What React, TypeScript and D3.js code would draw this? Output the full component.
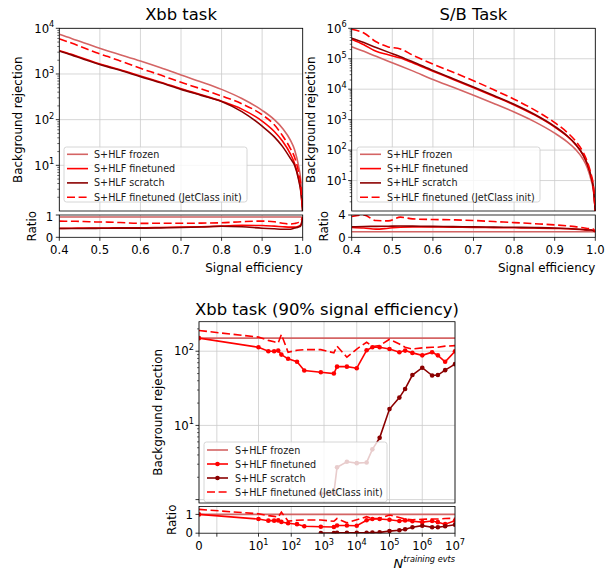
import React from "react";
import * as d3 from "d3";

const FONT = "'DejaVu Sans', Verdana, sans-serif";

const COL_FROZEN = "#d46464";
const COL_FINE = "#ff0000";
const COL_SCRATCH = "#8b0000";
const GRID = "#cbcbcb";

const legendLabels = [
  "S+HLF frozen",
  "S+HLF finetuned",
  "S+HLF scratch",
  "S+HLF finetuned (JetClass init)",
];

// Signal-efficiency working points shared by both ROC panels
const signalEff = [0.4, 0.43, 0.46, 0.49, 0.52, 0.55, 0.6, 0.65, 0.7, 0.75, 0.8, 0.85, 0.9, 0.93, 0.95, 0.97, 0.98, 0.99, 0.995, 1.0];

// Xbb task: background rejection at each signal efficiency
const xbbFrozen = [7400, 6000, 4800, 3900, 3200, 2650, 1930, 1370, 950, 670, 460, 290, 160, 100, 65, 35, 22, 9.5, 5, 1];
const xbbFinetuned = [3240, 2700, 2170, 1770, 1470, 1240, 900, 660, 475, 350, 253, 170, 93, 55, 34, 17.5, 11, 5.2, 3, 1];
const xbbScratch = [3200, 2620, 2100, 1720, 1430, 1200, 870, 640, 460, 340, 250, 150, 72, 42, 26, 14, 10, 4.8, 2.8, 1];
const xbbJetClass = [5900, 4750, 3750, 2950, 2400, 1930, 1330, 945, 655, 470, 330, 223, 128, 77, 45, 23, 15, 7, 4, 1];

// S/B task: background rejection at each signal efficiency
const sbFrozen = [2.5e5, 1.75e5, 1.2e5, 8.3e4, 5.8e4, 4.0e4, 2.1e4, 1.15e4, 6300, 3400, 1780, 860, 360, 190, 110, 50, 27, 10, 5, 1];
const sbFinetuned = [4.4e5, 2.9e5, 1.75e5, 1.35e5, 1.05e5, 7.4e4, 3.9e4, 2.1e4, 1.12e4, 5900, 3050, 1430, 570, 290, 160, 68, 35, 13, 6, 1];
const sbScratch = [4.7e5, 3.4e5, 2.35e5, 1.65e5, 1.17e5, 8.0e4, 4.1e4, 2.2e4, 1.18e4, 6200, 3200, 1500, 600, 300, 165, 70, 36, 13, 6.2, 1];
const sbJetClass = [9.3e5, 7.0e5, 3.6e5, 2.45e5, 2.1e5, 1.32e5, 6.7e4, 3.6e4, 1.9e4, 9600, 4700, 2100, 800, 390, 210, 85, 43, 15.5, 7.5, 1];

// Xbb at 90% signal efficiency vs. number of training events
const nFrozen = [0, 1e7];
const rejFrozen = [150, 150];
const nFinetuned = [0, 10, 20, 30, 40, 50, 80, 150, 250, 800, 2000, 2500, 5000, 1e4, 2e4, 3e4, 5e4, 1e5, 2e5, 3e5, 5e5, 1e6, 2e6, 3e6, 5e6, 1e7];
const rejFinetuned = [150, 113, 100, 100, 102, 90, 79, 72, 55, 52, 50, 62, 62, 59, 103, 113, 113, 107, 97, 102, 95, 88, 97, 88, 72, 100];
const rejJetClass = [190, 155, 140, 134, 129, 168, 97, 103, 105, 105, 95, 117, 83, 107, 132, 116, 119, 145, 125, 113, 107, 111, 113, 113, 117, 119];
const nScratch = [800, 2000, 2500, 5000, 1e4, 2e4, 3e4, 5e4, 1e5, 2e5, 3e5, 5e5, 1e6, 2e6, 3e6, 5e6, 1e7];
const rejScratch = [1.21, 1.22, 2.72, 3.24, 3.1, 3.17, 4.76, 6.8, 16.6, 23.7, 31, 47.7, 60, 47, 47.7, 55.6, 67];

// Tick values
const effTicks = [0.4, 0.5, 0.6, 0.7, 0.8, 0.9, 1.0];
const nTicks = [0, 3, 10, 1e2, 1e3, 1e4, 1e5, 1e6, 1e7];
const nTickLabels: (string | [string, number])[] = ["0", "", ["10", 1], ["10", 2], ["10", 3], ["10", 4], ["10", 5], ["10", 6], ["10", 7]];

interface Curve {
  x: number[];
  y: number[];
  color: string;
  dashed?: boolean;
  markers?: boolean;
}

interface Frame {
  x0: number;
  x1: number;
  y0: number;
  y1: number;
  r0: number;
  r1: number;
}

const TICK_FS = 11.7;
const SUP_FS = 8.2;
const LABEL_FS = 11.9;
const TITLE_FS = 16.4;
const LEGEND_FS = 9.6;
const DASH = "8,3.6";
const LW = 1.6;

function ratioOf(num: number[], den: number[]) {
  return num.map((v, i) => v / den[i]);
}

function logMinor(lo: number, hi: number) {
  const out: number[] = [];
  for (let d = Math.floor(Math.log10(lo)); d <= Math.ceil(Math.log10(hi)); d++) {
    for (let k = 2; k <= 9; k++) {
      const v = k * Math.pow(10, d);
      if (v > lo && v < hi) out.push(v);
    }
  }
  return out;
}

function Pow10({ x, y, e, anchor }: { x: number; y: number; e: number; anchor: "start" | "middle" | "end" }) {
  return (
    <text x={x} y={y} textAnchor={anchor} fontSize={TICK_FS}>
      10
      <tspan dy={-5.2} fontSize={SUP_FS}>
        {e}
      </tspan>
    </text>
  );
}

function Legend({
  x,
  y,
  w,
  h,
  rowY,
  step,
  lx0,
  lx1,
  tx,
  curves,
}: {
  x: number;
  y: number;
  w: number;
  h: number;
  rowY: number;
  step: number;
  lx0: number;
  lx1: number;
  tx: number;
  curves: Curve[];
}) {
  return (
    <g>
      <rect x={x} y={y} width={w} height={h} rx={2.5} fill="#ffffff" fillOpacity={0.8} stroke="#cccccc" strokeWidth={0.8} />
      {curves.map((c, i) => {
        const cy = rowY + i * step;
        return (
          <g key={i}>
            <line x1={lx0} x2={lx1} y1={cy} y2={cy} stroke={c.color} strokeWidth={LW} strokeDasharray={c.dashed ? DASH : undefined} />
            {c.markers && <circle cx={(lx0 + lx1) / 2} cy={cy} r={2.3} fill={c.color} />}
            <text x={tx} y={cy + 3.5} fontSize={LEGEND_FS} fill="#1a1a1a">
              {legendLabels[i]}
            </text>
          </g>
        );
      })}
    </g>
  );
}

function EffPanel({
  id,
  f,
  title,
  yTop,
  rTop,
  curves,
  legendX,
}: {
  id: string;
  f: Frame;
  title: string;
  yTop: number;
  rTop: number;
  curves: Curve[];
  legendX: number;
}) {
  const x = d3.scaleLinear().domain([0.4, 1.0]).range([f.x0, f.x1]);
  const y = d3.scaleLog().domain([1, yTop]).range([f.y1, f.y0]);
  const r = d3.scaleLinear().domain([0, rTop]).range([f.r1, f.r0]);
  const decades = d3.range(1, Math.round(Math.log10(yTop)) + 1);
  const minors = logMinor(1, yTop);
  const den = curves[0].y;

  const mainPath = (c: Curve) =>
    d3
      .line<number>()
      .x((_, i) => x(c.x[i]))
      .y((v) => y(v))
      .curve(d3.curveMonotoneX)(c.y) || "";
  const ratioPath = (c: Curve) =>
    d3
      .line<number>()
      .x((_, i) => x(c.x[i]))
      .y((v) => r(v))
      .curve(d3.curveMonotoneX)(ratioOf(c.y, den)) || "";

  const cx = (f.x0 + f.x1) / 2;
  return (
    <g>
      <defs>
        <clipPath id={`${id}-m`}>
          <rect x={f.x0} y={f.y0} width={f.x1 - f.x0} height={f.y1 - f.y0} />
        </clipPath>
        <clipPath id={`${id}-r`}>
          <rect x={f.x0} y={f.r0} width={f.x1 - f.x0} height={f.r1 - f.r0} />
        </clipPath>
      </defs>
      <text x={cx} y={20} textAnchor="middle" fontSize={TITLE_FS}>
        {title}
      </text>
      {/* grid */}
      <g stroke={GRID} strokeWidth={0.8}>
        {effTicks.map((t) => (
          <line key={`gx${t}`} x1={x(t)} x2={x(t)} y1={f.y0} y2={f.y1} />
        ))}
        {effTicks.map((t) => (
          <line key={`grx${t}`} x1={x(t)} x2={x(t)} y1={f.r0} y2={f.r1} />
        ))}
        {decades.map((d) => (
          <line key={`gy${d}`} x1={f.x0} x2={f.x1} y1={y(Math.pow(10, d))} y2={y(Math.pow(10, d))} />
        ))}
        <line x1={f.x0} x2={f.x1} y1={r(1)} y2={r(1)} />
      </g>
      {/* curves */}
      <g clipPath={`url(#${id}-m)`} fill="none">
        {curves.map((c, i) => (
          <path key={i} d={mainPath(c)} stroke={c.color} strokeWidth={LW} strokeDasharray={c.dashed ? DASH : undefined} />
        ))}
      </g>
      <g clipPath={`url(#${id}-r)`} fill="none">
        {curves.map((c, i) => (
          <path key={i} d={ratioPath(c)} stroke={c.color} strokeWidth={LW} strokeDasharray={c.dashed ? DASH : undefined} />
        ))}
      </g>
      <Legend x={legendX} y={147} w={183} h={55} rowY={154.3} step={14.3} lx0={legendX + 3} lx1={legendX + 24} tx={legendX + 30} curves={curves} />
      {/* spines */}
      <rect x={f.x0} y={f.y0} width={f.x1 - f.x0} height={f.y1 - f.y0} fill="none" stroke="#000" strokeWidth={0.8} />
      <rect x={f.x0} y={f.r0} width={f.x1 - f.x0} height={f.r1 - f.r0} fill="none" stroke="#000" strokeWidth={0.8} />
      {/* ticks */}
      <g stroke="#000">
        {decades.map((d) => (
          <line key={`ty${d}`} x1={f.x0 - 3.5} x2={f.x0} y1={y(Math.pow(10, d))} y2={y(Math.pow(10, d))} strokeWidth={0.8} />
        ))}
        {minors.map((v) => (
          <line key={`tm${v}`} x1={f.x0 - 2} x2={f.x0} y1={y(v)} y2={y(v)} strokeWidth={0.6} />
        ))}
        {effTicks.map((t) => (
          <line key={`tx${t}`} x1={x(t)} x2={x(t)} y1={f.r1} y2={f.r1 + 3.5} strokeWidth={0.8} />
        ))}
        {[0, rTop].map((t) => (
          <line key={`tr${t}`} x1={f.x0 - 3.5} x2={f.x0} y1={r(t)} y2={r(t)} strokeWidth={0.8} />
        ))}
      </g>
      {decades.map((d) => (
        <Pow10 key={`ly${d}`} x={f.x0 - 5} y={y(Math.pow(10, d)) + 4.2} e={d} anchor="end" />
      ))}
      {[0, rTop === 4 ? 4 : 1].map((t) => (
        <text key={`lr${t}`} x={f.x0 - 6} y={r(t) + 4.2} textAnchor="end" fontSize={TICK_FS}>
          {t}
        </text>
      ))}
      {effTicks.map((t) => (
        <text key={`lx${t}`} x={x(t)} y={f.r1 + 16.5} textAnchor="middle" fontSize={TICK_FS}>
          {t.toFixed(1)}
        </text>
      ))}
      <text x={f.x1} y={272} textAnchor="end" fontSize={LABEL_FS}>
        Signal efficiency
      </text>
      <text
        x={f.x0 - 37}
        y={(f.y0 + f.y1) / 2}
        transform={`rotate(-90, ${f.x0 - 37}, ${(f.y0 + f.y1) / 2})`}
        textAnchor="middle"
        fontSize={LABEL_FS}
      >
        Background rejection
      </text>
      <text
        x={f.x0 - 23.3}
        y={(f.r0 + f.r1) / 2}
        transform={`rotate(-90, ${f.x0 - 23.3}, ${(f.r0 + f.r1) / 2})`}
        textAnchor="middle"
        fontSize={LABEL_FS}
      >
        Ratio
      </text>
    </g>
  );
}

function TrainingPanel() {
  const f: Frame = { x0: 199, x1: 455, y0: 321.7, y1: 503, r0: 506.5, r1: 533.2 };
  // linear up to 10 events, logarithmic above
  const nToT = (n: number) => (n <= 10 ? n / 10 : 1 + Math.log10(n / 10));
  const tAxis = d3.scaleLinear().domain([0, 1, 7]).range([f.x0, 258.5, f.x1]);
  const x = (n: number) => tAxis(nToT(n));
  const y = d3.scaleLog().domain([0.9, 250]).range([f.y1, f.y0]);
  const r = d3.scaleLinear().domain([0, 1.42]).range([f.r1, f.r0]);

  const curves: Curve[] = [
    { x: nFrozen, y: rejFrozen, color: COL_FROZEN },
    { x: nFinetuned, y: rejFinetuned, color: COL_FINE, markers: true },
    { x: nScratch, y: rejScratch, color: COL_SCRATCH, markers: true },
    { x: nFinetuned, y: rejJetClass, color: COL_FINE, dashed: true },
  ];
  const frozenRef = rejFrozen[0];
  const path = (c: Curve, ys: (v: number) => number, vals: number[]) =>
    d3
      .line<number>()
      .x((_, i) => x(c.x[i]))
      .y((v) => ys(v))(vals) || "";

  const decades = [0, 1, 2];
  const minors = logMinor(1, 250);

  return (
    <g>
      <defs>
        <clipPath id="nb-m">
          <rect x={f.x0} y={f.y0} width={f.x1 - f.x0} height={f.y1 - f.y0} />
        </clipPath>
        <clipPath id="nb-r">
          <rect x={f.x0} y={f.r0} width={f.x1 - f.x0} height={f.r1 - f.r0} />
        </clipPath>
      </defs>
      <text x={(f.x0 + f.x1) / 2} y={315} textAnchor="middle" fontSize={TITLE_FS}>
        Xbb task (90% signal efficiency)
      </text>
      <g stroke={GRID} strokeWidth={0.8}>
        {nTicks.map((t) => (
          <line key={`gx${t}`} x1={x(t)} x2={x(t)} y1={f.y0} y2={f.y1} />
        ))}
        {nTicks.map((t) => (
          <line key={`grx${t}`} x1={x(t)} x2={x(t)} y1={f.r0} y2={f.r1} />
        ))}
        {decades.map((d) => (
          <line key={`gy${d}`} x1={f.x0} x2={f.x1} y1={y(Math.pow(10, d))} y2={y(Math.pow(10, d))} />
        ))}
        <line x1={f.x0} x2={f.x1} y1={r(1)} y2={r(1)} />
      </g>
      <g clipPath="url(#nb-m)">
        {curves.map((c, i) => (
          <g key={i}>
            <path d={path(c, y, c.y)} fill="none" stroke={c.color} strokeWidth={LW} strokeDasharray={c.dashed ? DASH : undefined} />
            {c.markers && c.y.map((v, j) => <circle key={j} cx={x(c.x[j])} cy={y(v)} r={2.3} fill={c.color} />)}
          </g>
        ))}
      </g>
      <g clipPath="url(#nb-r)">
        {curves.map((c, i) => {
          const vals = c.y.map((v) => v / frozenRef);
          return (
            <g key={i}>
              <path d={path(c, r, vals)} fill="none" stroke={c.color} strokeWidth={LW} strokeDasharray={c.dashed ? DASH : undefined} />
              {c.markers && vals.map((v, j) => <circle key={j} cx={x(c.x[j])} cy={r(v)} r={2.3} fill={c.color} />)}
            </g>
          );
        })}
      </g>
      <Legend x={204} y={442} w={183} h={60} rowY={450} step={14} lx0={207} lx1={228} tx={235} curves={curves} />
      <rect x={f.x0} y={f.y0} width={f.x1 - f.x0} height={f.y1 - f.y0} fill="none" stroke="#000" strokeWidth={0.8} />
      <rect x={f.x0} y={f.r0} width={f.x1 - f.x0} height={f.r1 - f.r0} fill="none" stroke="#000" strokeWidth={0.8} />
      <g stroke="#000">
        {decades.map((d) => (
          <line key={`ty${d}`} x1={f.x0 - 3.5} x2={f.x0} y1={y(Math.pow(10, d))} y2={y(Math.pow(10, d))} strokeWidth={0.8} />
        ))}
        {minors.map((v) => (
          <line key={`tm${v}`} x1={f.x0 - 2} x2={f.x0} y1={y(v)} y2={y(v)} strokeWidth={0.6} />
        ))}
        {nTicks.map((t) => (
          <line key={`tx${t}`} x1={x(t)} x2={x(t)} y1={f.r1} y2={f.r1 + 3.5} strokeWidth={0.8} />
        ))}
        {[0, 1].map((t) => (
          <line key={`tr${t}`} x1={f.x0 - 3.5} x2={f.x0} y1={r(t)} y2={r(t)} strokeWidth={0.8} />
        ))}
      </g>
      {[1, 2].map((d) => (
        <Pow10 key={`ly${d}`} x={f.x0 - 5} y={y(Math.pow(10, d)) + 4.2} e={d} anchor="end" />
      ))}
      {[0, 1].map((t) => (
        <text key={`lr${t}`} x={f.x0 - 6} y={r(t) + 4.2} textAnchor="end" fontSize={TICK_FS}>
          {t}
        </text>
      ))}
      {nTicks.map((t, i) => {
        const lab = nTickLabels[i];
        if (lab === "") return null;
        if (typeof lab === "string")
          return (
            <text key={`lx${t}`} x={x(t)} y={f.r1 + 16.8} textAnchor="middle" fontSize={TICK_FS}>
              {lab}
            </text>
          );
        return <Pow10 key={`lx${t}`} x={x(t)} y={f.r1 + 16.8} e={lab[1]} anchor="middle" />;
      })}
      <text x={f.x1} y={567.5} textAnchor="end" fontStyle="italic">
        <tspan fontSize={13}>N</tspan>
        <tspan dy={-5.5} fontSize={SUP_FS}>
          training evts
        </tspan>
      </text>
      <text
        x={f.x0 - 37}
        y={(f.y0 + f.y1) / 2}
        transform={`rotate(-90, ${f.x0 - 37}, ${(f.y0 + f.y1) / 2})`}
        textAnchor="middle"
        fontSize={LABEL_FS}
      >
        Background rejection
      </text>
      <text
        x={f.x0 - 23}
        y={(f.r0 + f.r1) / 2}
        transform={`rotate(-90, ${f.x0 - 23}, ${(f.r0 + f.r1) / 2})`}
        textAnchor="middle"
        fontSize={LABEL_FS}
      >
        Ratio
      </text>
    </g>
  );
}

export default function App() {
  const xbbCurves: Curve[] = [
    { x: signalEff, y: xbbFrozen, color: COL_FROZEN },
    { x: signalEff, y: xbbFinetuned, color: COL_FINE },
    { x: signalEff, y: xbbScratch, color: COL_SCRATCH },
    { x: signalEff, y: xbbJetClass, color: COL_FINE, dashed: true },
  ];
  const sbCurves: Curve[] = [
    { x: signalEff, y: sbFrozen, color: COL_FROZEN },
    { x: signalEff, y: sbFinetuned, color: COL_FINE },
    { x: signalEff, y: sbScratch, color: COL_SCRATCH },
    { x: signalEff, y: sbJetClass, color: COL_FINE, dashed: true },
  ];
  return (
    <svg
      width={616}
      height={569}
      style={{ position: "absolute", left: 0, top: 0, background: "#fff" }}
      fontFamily={FONT}
      fill="#000"
    >
      <rect x={0} y={0} width={616} height={569} fill="#fff" />
      <EffPanel
        id="xbb"
        f={{ x0: 59.3, x1: 302.7, y0: 28.3, y1: 211, r0: 215, r1: 237.3 }}
        title="Xbb task"
        yTop={1e4}
        rTop={1.1}
        curves={xbbCurves}
        legendX={64}
      />
      <EffPanel
        id="sb"
        f={{ x0: 351.7, x1: 595.3, y0: 28.3, y1: 211, r0: 215, r1: 237.3 }}
        title="S/B Task"
        yTop={1e6}
        rTop={4}
        curves={sbCurves}
        legendX={357}
      />
      <TrainingPanel />
    </svg>
  );
}
